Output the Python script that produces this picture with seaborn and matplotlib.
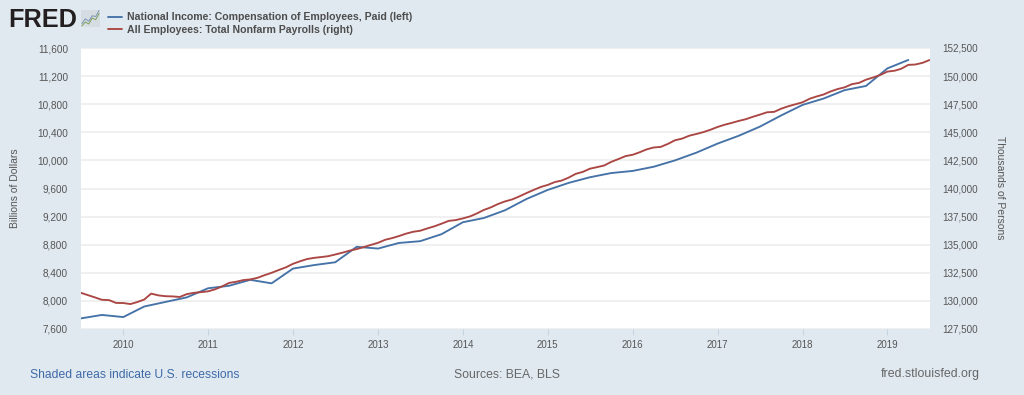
import pandas as pd
import seaborn as sns
import matplotlib.pyplot as plt
import matplotlib.dates as mdates
from matplotlib.ticker import FuncFormatter, FixedLocator

sns.set_theme(style='white')
plt.rcParams['font.family'] = ['Liberation Sans', 'DejaVu Sans']

# Compensation of employees, quarterly, 2009 Q3 - 2019 Q2 (billions)
compensation = [7750, 7800, 7770, 7920, 7985, 8050,
                8180, 8215, 8300, 8250,
                8460, 8510, 8550, 8770,
                8745, 8825, 8850, 8950,
                9120, 9180, 9290, 9450,
                9580, 9680, 9760, 9820,
                9850, 9910, 10000, 10110,
                10240, 10350, 10480, 10640,
                10790, 10880, 11000, 11060,
                11310, 11430]

# Total nonfarm payrolls, monthly, Jul 2009 - Jul 2019 (thousands)
payrolls = [130730, 130520, 130310, 130100, 130070, 129820,
            129810, 129720, 129890, 130120, 130650, 130490, 130420, 130400, 130350, 130600, 130720, 130780,
            130850, 131040, 131280, 131600, 131700, 131850, 131910, 132050, 132290, 132500, 132750, 132980,
            133300, 133530, 133720, 133830, 133900, 133980, 134130, 134290, 134470, 134610, 134790, 134980,
            135170, 135440, 135580, 135770, 135980, 136150, 136240, 136450, 136640, 136870, 137120, 137190,
            137340, 137520, 137770, 138090, 138320, 138620, 138850, 139030, 139300, 139590, 139870, 140130,
            140320, 140580, 140700, 140970, 141300, 141480, 141760, 141900, 142050, 142370, 142620, 142880,
            143000, 143230, 143480, 143650, 143700, 143970, 144290, 144440, 144700, 144850, 145020, 145230,
            145480, 145680, 145830, 146010, 146160, 146380, 146570, 146780, 146820, 147100, 147320, 147490,
            147670, 147990, 148180, 148360, 148630, 148850, 149000, 149280, 149400, 149680, 149880, 150100,
            150400, 150480, 150650, 151000, 151030, 151180, 151430]

left_ticks = list(range(7600, 11601, 400))
right_ticks = list(range(127500, 152501, 2500))
years = list(range(2010, 2020))

blue = '#4572a7'
red = '#aa4643'
bg = '#e1e9f0'
text_c = '#555555'

comp_df = pd.DataFrame({'date': pd.date_range('2009-07-01', periods=len(compensation), freq='QS'),
                        'value': compensation})
pay_df = pd.DataFrame({'date': pd.date_range('2009-07-01', periods=len(payrolls), freq='MS'),
                       'value': payrolls})

W, H = 1024, 395
fig = plt.figure(figsize=(W / 100, H / 100), dpi=100, facecolor=bg)
ax = fig.add_axes([80.5 / W, 1 - 329 / H, 849 / W, 281 / H])
ax.set_facecolor('white')
ax2 = ax.twinx()

sns.lineplot(data=comp_df, x='date', y='value', ax=ax, color=blue, linewidth=1.35, errorbar=None,
             label='National Income: Compensation of Employees, Paid (left)', legend=False)
sns.lineplot(data=pay_df, x='date', y='value', ax=ax2, color=red, linewidth=1.35, errorbar=None,
             label='All Employees: Total Nonfarm Payrolls (right)', legend=False)

ax.set_xlim(pd.Timestamp('2009-07-01'), pd.Timestamp('2019-07-01'))
ax.set_ylim(7600, 11600)
ax2.set_ylim(127500, 152500)
ax.yaxis.set_major_locator(FixedLocator(left_ticks))
ax2.yaxis.set_major_locator(FixedLocator(right_ticks))
ax.yaxis.set_major_formatter(FuncFormatter(lambda v, p: f'{int(v):,}'))
ax2.yaxis.set_major_formatter(FuncFormatter(lambda v, p: f'{int(v):,}'))
ax.xaxis.set_major_locator(FixedLocator([mdates.date2num(pd.Timestamp(f'{y}-01-01')) for y in years]))
ax.xaxis.set_major_formatter(mdates.DateFormatter('%Y'))

ax.grid(axis='y', color='#ececec', linewidth=1.1)
ax.set_axisbelow(True)
ax.tick_params(axis='y', length=0, pad=9, labelsize=7.2, labelcolor=text_c)
ax2.tick_params(axis='y', length=0, pad=9.5, labelsize=7.1, labelcolor=text_c)
ax.tick_params(axis='x', length=4, width=0.8, color='#c6d4e2', pad=4, labelsize=7, labelcolor=text_c, bottom=True)
for a in (ax, ax2):
    a.grid(False, axis='x')
    for s in a.spines.values():
        s.set_visible(False)
ax2.grid(False)
ax.set_xlabel('')
ax.set_ylabel('')
ax2.set_ylabel('')

fig.text(15.5 / W, 1 - 188 / H, 'Billions of Dollars', rotation=90, va='center', ha='center',
         fontsize=7.45, color=text_c)
fig.text(1000 / W, 1 - 188 / H, 'Thousands of Persons', rotation=270, va='center', ha='center',
         fontsize=7.45, color=text_c)

# header: logo and legend
fig.text(8 / W, 1 - 27 / H, 'FRED', fontsize=18.2, fontweight='bold', color='#231f20', va='baseline', ha='left')
icon = fig.add_axes([81 / W, 1 - 26.7 / H, 19 / W, 17.2 / H], facecolor='#d5dde3')
icon.plot([0, 1, 2, 3, 4, 5], [1, 2, 1.5, 3, 2.6, 4.2], color='#7fa05a', linewidth=0.7)
icon.plot([0, 1, 2, 3, 4, 5], [1.6, 2.8, 2.2, 3.6, 3.4, 5], color='#7c96b5', linewidth=0.7)
icon.set_xticks([])
icon.set_yticks([])
for s in icon.spines.values():
    s.set_visible(False)

handles = ax.get_lines()[:1] + ax2.get_lines()[:1]
leg = fig.legend(handles, [h.get_label() for h in handles], loc='upper left',
                 bbox_to_anchor=(108 / W, 1 - 12.5 / H), frameon=False, fontsize=7.6,
                 handlelength=1.35, handletextpad=0.48, labelspacing=0.2,
                 borderaxespad=0, borderpad=0)
for t in leg.get_texts():
    t.set_color('#4d4d4d')
    t.set_fontweight('bold')

# footer
fig.text(30 / W, 1 - 374.5 / H, 'Shaded areas indicate U.S. recessions', fontsize=8.75, color='#3e6aa8', va='center', ha='left')
fig.text(507 / W, 1 - 374.5 / H, 'Sources: BEA, BLS', fontsize=8.85, color='#666666', va='center', ha='center')
fig.text(980 / W, 1 - 374.5 / H, 'fred.stlouisfed.org', fontsize=8.9, color='#666666', va='center', ha='right')

fig.savefig('out.png', dpi=100, facecolor=bg)
